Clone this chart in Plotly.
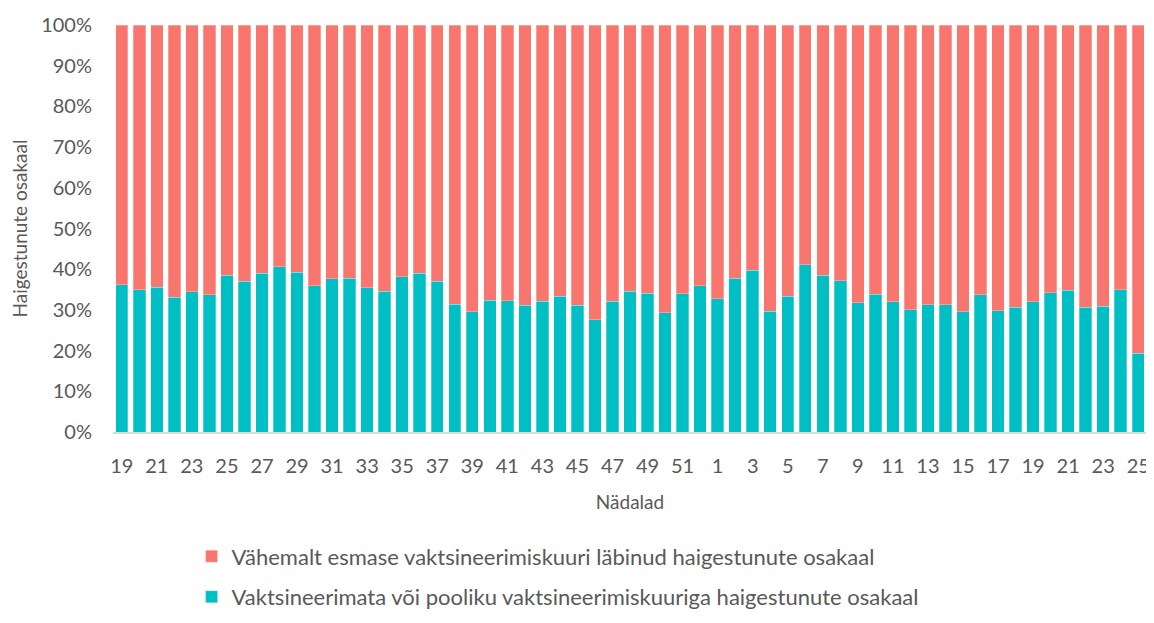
import plotly.graph_objects as go

weeks = ["19","20","21","22","23","24","25","26","27","28","29","30","31","32","33","34","35","36","37","38",
         "39","40","41","42","43","44","45","46","47","48","49","50","51","52",
         "1","2","3","4","5","6","7","8","9","10","11","12","13","14","15","16","17","18","19","20","21","22","23","24","25"]

unvaccinated = [36.2,35.0,35.6,33.1,34.5,33.7,38.5,37.1,39.0,40.6,39.2,35.9,37.6,37.8,35.5,34.6,38.1,39.0,37.1,31.4,
                29.6,32.4,32.3,31.1,32.1,33.3,31.2,27.6,32.1,34.6,34.1,29.3,34.0,35.9,
                32.7,37.8,39.8,29.7,33.3,41.1,38.5,37.2,31.7,33.9,32.0,30.0,31.3,31.3,29.5,33.7,29.8,30.7,32.0,34.2,34.8,30.7,30.9,34.9,19.4]

vaccinated = [63.8,65.0,64.4,66.9,65.5,66.3,61.5,62.9,61.0,59.4,60.8,64.1,62.4,62.2,64.5,65.4,61.9,61.0,62.9,68.6,
              70.4,67.6,67.7,68.9,67.9,66.7,68.8,72.4,67.9,65.4,65.9,70.7,66.0,64.1,
              67.3,62.2,60.2,70.3,66.7,58.9,61.5,62.8,68.3,66.1,68.0,70.0,68.7,68.7,70.5,66.3,70.2,69.3,68.0,65.8,65.2,69.3,69.1,65.1,80.6]

name_vacc = "Vähemalt esmase vaktsineerimiskuuri läbinud haigestunute osakaal"
name_unvacc = "Vaktsineerimata või pooliku vaktsineerimiskuuriga haigestunute osakaal"

pos = list(range(len(weeks)))
font = "Lato, Open Sans, sans-serif"
grey = "#595959"

fig = go.Figure()
fig.add_trace(go.Bar(x=pos, y=unvaccinated, name=name_unvacc, legendgroup="b", legendrank=2,
                     marker=dict(color="#00BFC4", line=dict(color="rgba(255,255,255,0.35)", width=0.8))))
fig.add_trace(go.Bar(x=pos, y=vaccinated, name=name_vacc, legendgroup="a", legendrank=1,
                     marker=dict(color="#F8766D", line=dict(color="rgba(255,255,255,0.35)", width=0.8))))

fig.update_layout(
    barmode="stack",
    bargap=0.29,
    width=1146, height=615,
    margin=dict(l=105, r=4, t=15, b=190),
    plot_bgcolor="white", paper_bgcolor="white",
    font=dict(family=font, color=grey),
    legend=dict(orientation="v", traceorder="grouped", x=0.076, y=-0.254, xanchor="left", yanchor="top",
                font=dict(size=22, color=grey), tracegroupgap=9, itemwidth=30),
    showlegend=True,
)
fig.update_xaxes(tickvals=pos[::2], ticktext=weeks[::2], tickfont=dict(size=20, color=grey),
                 showline=True, linecolor="#D9D9D9", linewidth=1.5, ticks="", range=[-0.5, len(weeks) - 0.5],
                 ticklabelstandoff=15,
                 title=dict(text="Nädalad", font=dict(size=19, color=grey), standoff=20))
fig.update_yaxes(range=[0, 100], tickvals=list(range(0, 101, 10)),
                 ticktext=[f"{v}%" for v in range(0, 101, 10)], tickfont=dict(size=20, color=grey),
                 showgrid=False, zeroline=False, showline=False, ticks="", ticklabelstandoff=20,
                 title=dict(text="Haigestunute osakaal", font=dict(size=19, color=grey), standoff=10))

fig.write_html("out.html")
